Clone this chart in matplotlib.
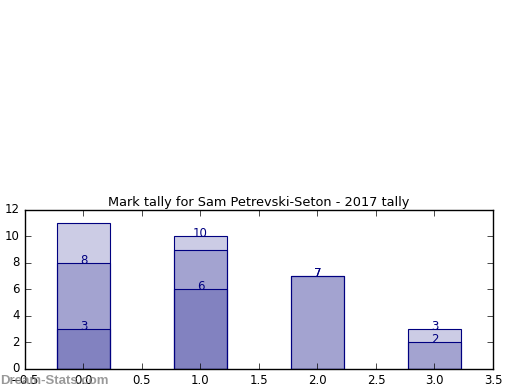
import matplotlib
matplotlib.use("Agg")
import matplotlib.pyplot as plt

plt.style.use("classic")

years = [0, 1, 2, 3]
series_total = [11, 9, 0, 0]
series_b = [8, 10, 7, 3]
series_c = [3, 6, 7, 2]

fig = plt.figure(figsize=(5.2, 3.9), dpi=100, facecolor="white")
ax = fig.add_axes([0.048, 0.054, 0.9, 0.408])

for vals, labelled in ((series_total, False), (series_b, True), (series_c, True)):
    ax.bar(years, vals, width=0.45, align="center", color="navy", alpha=0.2,
           edgecolor="none")
    ax.bar(years, vals, width=0.45, align="center", fill=False, edgecolor="navy",
           linewidth=0.8)
    if labelled:
        for x, v in zip(years, vals):
            ax.text(x, v - 0.3, str(v), ha="center", va="bottom", color="navy",
                    fontsize=8.5)

ax.set_xlim(-0.5, 3.5)
ax.set_ylim(0, 12)
ax.tick_params(labelsize=8.5)
ax.set_title("Mark tally for Sam Petrevski-Seton - 2017 tally", fontsize=9.3, pad=3)

fig.text(0.0, 0.008, "Dream-Stats.com", color="gray", alpha=0.8, fontsize=9.5,
         family="Liberation Sans", fontweight="bold", ha="left", va="bottom")

fig.savefig("out.png", dpi=100, facecolor="white")
